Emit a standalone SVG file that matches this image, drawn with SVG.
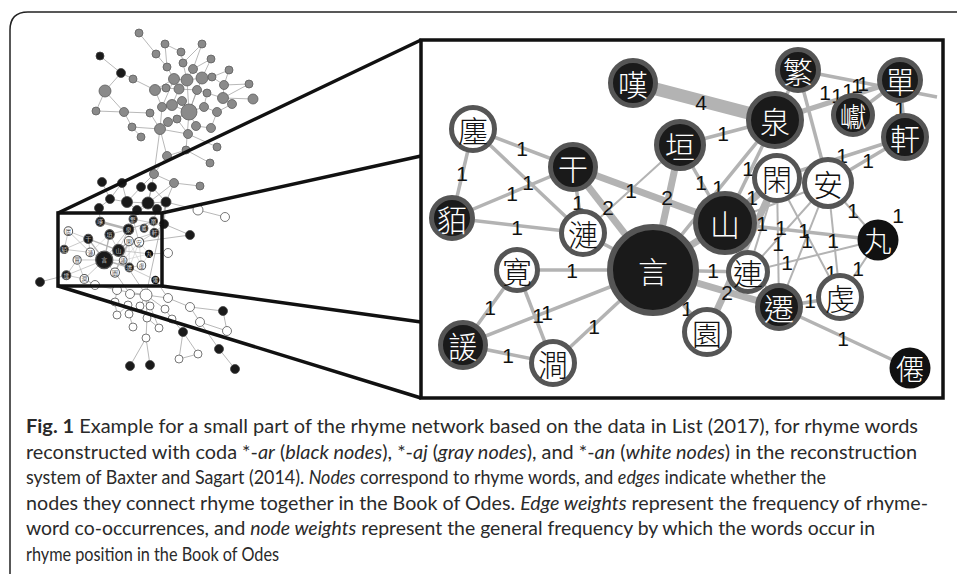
<svg xmlns="http://www.w3.org/2000/svg" xmlns:xlink="http://www.w3.org/1999/xlink" width="957" height="574" viewBox="0 0 957 574">
<style>
.frame{fill:none;stroke:#222;stroke-width:1.5}
.box{fill:none;stroke:#111;stroke-width:3.5}
.panel{fill:#fff;stroke:#111;stroke-width:3.5}
.proj{stroke:#111;stroke-width:3.5;fill:none}
.e{stroke:#b3b3b3;stroke-width:3.5;fill:none;stroke-linecap:butt}
.e2{stroke-width:7}
.e4{stroke-width:13}
.et{stroke-width:2}
.nb circle{fill:#1a1a1a;stroke:#555;stroke-width:5}
.nw circle{fill:#fff;stroke:#555;stroke-width:5}
.ns circle{fill:#111;stroke:none}
.nb text,.ns text{fill:#fff}
.nw text{fill:#111}
.ch{font-family:"Noto Sans CJK TC","Noto Sans CJK JP",sans-serif;font-weight:300;font-size:30px;text-anchor:middle;dominant-baseline:central}
.lbl{font-family:"Liberation Sans",Arial,sans-serif;font-size:21px;fill:#111;text-anchor:middle}
.se{stroke:#9a9a9a;stroke-width:0.7;fill:none}
.sg{fill:#8a8a8a;stroke:#5e5e5e;stroke-width:0.8}
.sk{fill:#1a1a1a;stroke:#444;stroke-width:0.8}
.sw{fill:#fff;stroke:#555;stroke-width:0.8}
.cap{font-family:Lato,"Open Sans","Liberation Sans",sans-serif;font-size:19.5px;fill:#2a2a2a}
</style>
<rect width="957" height="574" fill="#fff"/>
<path class="frame" d="M10,574 V30 Q10,12 28,12 H957"/>

<!-- overview network -->
<g id="overview">
<path class="se" d="M139,33L156,54M156,54L167,67M165,44L167,67M165,44L181,52M181,52L183,63M202,44L183,63M202,44L193,69M211,59L193,69M211,59L202,78M167,67L174,79M183,63L187,80M193,69L187,80M193,69L202,78M229,70L212,77M229,70L224,85M174,79L187,80M187,80L202,78M202,78L212,77M212,77L224,85M249,84L224,85M249,84L223,98M133,79L155,90M105,91L121,73M100,56L121,73M105,91L96,111M105,91L124,112M96,111L124,112M124,112L150,113M124,112L132,127M132,127L141,137M132,127L160,129M155,90L174,79M155,90L166,88M155,90L162,107M166,88L179,89M179,89L187,80M179,89L197,90M197,90L207,93M207,93L223,98M223,98L232,104M223,98L253,99M224,85L223,98M162,107L172,105M172,105L182,101M182,101L189,112M172,105L189,112M189,112L204,107M204,107L217,112M189,112L168,122M189,112L177,119M189,112L196,126M196,126L211,128M168,122L160,129M160,129L150,113M160,129L188,134M188,134L217,147M160,129L167,156M167,156L186,150M186,150L210,163M167,156L154,174M154,174L174,183M174,183L200,186M189,112L187,80M189,112L202,78M204,107L207,93M217,112L232,104M162,107L174,79M172,105L179,89M189,112L197,90M211,128L217,112M162,107L160,129M177,119L188,134M121,73L133,79M189,112L186,150M160,129L154,174"/>
<path class="se" d="M154,174L141,187M154,174L148,203M174,183L166,202M174,183L148,203M102,182L110,199M122,183L110,199M122,183L127,202M141,187L127,202M152,187L148,203M152,187L166,202M110,199L127,202M127,202L148,203M148,203L166,202M99,208L110,199M137,210L127,202M137,210L148,203M157,209L148,203M157,209L166,202M166,202L198,210M198,210L225,217M166,202L164,224M164,224L190,235M137,210L128.5,229.3M148,203L133,219M157,209L153.4,221.2M99,208L100.2,221.8M164,224L154.4,232.8M166,202L146,295M190,235L139,242M168,253L149,254"/>
<path class="se" d="M40,282L66.4,275.2M95,285L84.3,278.9M95,285L117,290M117,290L146,295M146,295L130,294M146,295L168,298M146,295L140,306M146,295L150,306M146,295L165,309M146,295L147,318M130,294L115,272.6M117,290L115,302M115,302L117,315M128,305L117,315M128,305L129,314M140,306L129,314M129,314L133,327M147,318L159,328M147,318L146,338M146,338L130,366M146,338L150,365M168,298L190,307M190,307L223,311M190,307L200,322M200,322L227,331M227,331L223,311M165,309L172,319M172,319L183,332M183,332L179,359M183,332L198,354M179,359L198,354M200,322L219,349M219,349L235,369M150,306L159,328M168,298L155.4,279.9M146,295L123.1,260.3"/>
<g>
<circle class="sg" cx="139" cy="33" r="4"/><circle class="sg" cx="165" cy="44" r="4"/><circle class="sg" cx="202" cy="44" r="4"/><circle class="sg" cx="156" cy="54" r="4"/><circle class="sg" cx="181" cy="52" r="4"/><circle class="sg" cx="211" cy="59" r="4"/><circle class="sg" cx="167" cy="67" r="4"/><circle class="sg" cx="183" cy="63" r="4"/><circle class="sg" cx="193" cy="69" r="4.5"/><circle class="sg" cx="229" cy="70" r="4"/>
<circle class="sg" cx="174" cy="79" r="5.5"/><circle class="sg" cx="187" cy="80" r="6"/><circle class="sg" cx="202" cy="78" r="6"/><circle class="sg" cx="212" cy="77" r="4"/><circle class="sg" cx="249" cy="84" r="4"/><circle class="sg" cx="133" cy="79" r="4"/><circle class="sg" cx="105" cy="91" r="6"/><circle class="sg" cx="155" cy="90" r="5.5"/><circle class="sg" cx="166" cy="88" r="4"/><circle class="sg" cx="179" cy="89" r="5"/>
<circle class="sg" cx="197" cy="90" r="4.5"/><circle class="sg" cx="207" cy="93" r="4"/><circle class="sg" cx="224" cy="85" r="4.5"/><circle class="sg" cx="223" cy="98" r="5.5"/><circle class="sg" cx="232" cy="104" r="4.5"/><circle class="sg" cx="253" cy="99" r="5"/><circle class="sg" cx="96" cy="111" r="4"/><circle class="sg" cx="124" cy="112" r="4.5"/><circle class="sg" cx="162" cy="107" r="4.5"/><circle class="sg" cx="172" cy="105" r="5.5"/>
<circle class="sg" cx="182" cy="101" r="4.5"/><circle class="sg" cx="189" cy="112" r="8"/><circle class="sg" cx="204" cy="107" r="4.5"/><circle class="sg" cx="217" cy="112" r="4.5"/><circle class="sg" cx="150" cy="113" r="4"/><circle class="sg" cx="168" cy="122" r="4.5"/><circle class="sg" cx="177" cy="119" r="4"/><circle class="sg" cx="196" cy="126" r="4.5"/><circle class="sg" cx="211" cy="128" r="4.5"/><circle class="sg" cx="132" cy="127" r="4"/>
<circle class="sg" cx="160" cy="129" r="5.5"/><circle class="sg" cx="188" cy="134" r="4.5"/><circle class="sg" cx="141" cy="137" r="4"/><circle class="sg" cx="217" cy="147" r="4"/><circle class="sg" cx="186" cy="150" r="4"/><circle class="sg" cx="167" cy="156" r="4.5"/><circle class="sg" cx="210" cy="163" r="4"/><circle class="sg" cx="154" cy="174" r="4.5"/><circle class="sg" cx="174" cy="183" r="4.5"/><circle class="sg" cx="200" cy="186" r="4"/>
<circle class="sk" cx="100" cy="56" r="4"/><circle class="sk" cx="121" cy="73" r="4.5"/>
<circle class="sk" cx="102" cy="182" r="4.5"/><circle class="sk" cx="122" cy="183" r="4.5"/><circle class="sk" cx="141" cy="187" r="4.5"/><circle class="sk" cx="152" cy="187" r="4.5"/><circle class="sk" cx="110" cy="199" r="4.5"/><circle class="sk" cx="127" cy="202" r="5.5"/><circle class="sk" cx="148" cy="203" r="6"/><circle class="sk" cx="166" cy="202" r="5"/><circle class="sk" cx="99" cy="208" r="4.5"/><circle class="sk" cx="137" cy="210" r="4.5"/><circle class="sk" cx="157" cy="209" r="4.5"/>
<circle class="sw" cx="198" cy="210" r="5"/><circle class="sw" cx="225" cy="217" r="4.5"/><circle class="sk" cx="164" cy="224" r="4.5"/><circle class="sk" cx="190" cy="235" r="4.5"/><circle class="sw" cx="168" cy="253" r="4.5"/><circle class="sk" cx="40" cy="282" r="4.5"/>
<circle class="sw" cx="95" cy="285" r="4.5"/><circle class="sw" cx="117" cy="290" r="4.5"/><circle class="sw" cx="146" cy="295" r="6"/><circle class="sw" cx="130" cy="294" r="4.5"/><circle class="sw" cx="168" cy="298" r="4.5"/><circle class="sw" cx="115" cy="302" r="4"/><circle class="sw" cx="128" cy="305" r="4"/><circle class="sw" cx="140" cy="306" r="4"/><circle class="sw" cx="150" cy="306" r="4"/><circle class="sw" cx="165" cy="309" r="4"/>
<circle class="sw" cx="190" cy="307" r="4.5"/><circle class="sk" cx="223" cy="311" r="4.5"/><circle class="sw" cx="117" cy="315" r="4"/><circle class="sw" cx="129" cy="314" r="4"/><circle class="sw" cx="147" cy="318" r="4"/><circle class="sw" cx="172" cy="319" r="4"/><circle class="sw" cx="200" cy="322" r="4.5"/><circle class="sw" cx="133" cy="327" r="4"/><circle class="sw" cx="159" cy="328" r="4"/><circle class="sk" cx="183" cy="332" r="4.5"/>
<circle class="sw" cx="227" cy="331" r="4.5"/><circle class="sw" cx="146" cy="338" r="4"/><circle class="sk" cx="219" cy="349" r="4.5"/><circle class="sw" cx="179" cy="359" r="4"/><circle class="sw" cx="198" cy="354" r="4"/><circle class="sk" cx="130" cy="366" r="4.5"/><circle class="sk" cx="150" cy="365" r="4.5"/><circle class="sk" cx="235" cy="369" r="4.5"/>
</g>
<use xlink:href="#edges" transform="translate(58,213) scale(0.1992,0.2041) translate(-421,-40)"/>
<use xlink:href="#nodes" transform="translate(58,213) scale(0.1992,0.2041) translate(-421,-40)"/>
<rect class="box" x="58" y="213" width="104" height="73"/>
</g>

<!-- projection lines -->
<path class="proj" d="M58,213L421,40M162,213L421,156M162,286L421,322M58,286L421,398"/>

<!-- zoomed panel -->
<rect class="panel" x="421" y="40" width="522" height="358"/>

<g id="edges">
<line class="e e4" x1="633" y1="83" x2="775" y2="120"/>
<line class="e" x1="473" y1="129" x2="573" y2="167"/>
<line class="e" x1="473" y1="129" x2="452" y2="218"/>
<line class="e" x1="473" y1="129" x2="583" y2="233"/>
<line class="e" x1="452" y1="218" x2="573" y2="167"/>
<line class="e" x1="452" y1="218" x2="583" y2="233"/>
<line class="e" x1="573" y1="167" x2="583" y2="233"/>
<line class="e e2" x1="573" y1="167" x2="653" y2="270"/>
<line class="e e2" x1="573" y1="167" x2="725" y2="223"/>
<line class="e et" x1="583" y1="233" x2="680" y2="145"/>
<line class="e e2" x1="680" y1="145" x2="653" y2="270"/>
<line class="e" x1="680" y1="145" x2="775" y2="120"/>
<line class="e" x1="680" y1="145" x2="725" y2="223"/>
<line class="e" x1="775" y1="120" x2="725" y2="223"/>
<line class="e" x1="775" y1="120" x2="653" y2="270"/>
<line class="e e2" x1="777" y1="178" x2="725" y2="223"/>
<line class="e e2" x1="777" y1="178" x2="707" y2="332"/>
<line class="e" style="stroke-width:5" x1="775" y1="120" x2="900" y2="80"/>
<line class="e" x1="798" y1="70" x2="937" y2="97"/>
<line class="e" x1="798" y1="70" x2="828" y2="183"/>
<line class="e" x1="798" y1="70" x2="775" y2="120"/>
<line class="e" x1="853" y1="115" x2="900" y2="80"/>
<line class="e" x1="900" y1="80" x2="905" y2="137"/>
<line class="e" x1="905" y1="137" x2="828" y2="183"/>
<line class="e" x1="905" y1="137" x2="777" y2="178"/>
<line class="e" x1="725" y1="223" x2="878" y2="240"/>
<line class="e et" x1="828" y1="183" x2="878" y2="240"/>
<line class="e et" x1="828" y1="183" x2="840" y2="297"/>
<line class="e et" x1="878" y1="240" x2="840" y2="297"/>
<line class="e et" x1="828" y1="183" x2="748" y2="272"/>
<line class="e et" x1="828" y1="183" x2="779" y2="307"/>
<line class="e et" x1="828" y1="183" x2="725" y2="223"/>
<line class="e et" x1="777" y1="178" x2="840" y2="297"/>
<line class="e et" x1="777" y1="178" x2="779" y2="307"/>
<line class="e et" x1="777" y1="178" x2="748" y2="272"/>
<line class="e et" x1="748" y1="272" x2="878" y2="240"/>
<line class="e et" x1="725" y1="223" x2="779" y2="307"/>
<line class="e" x1="653" y1="270" x2="748" y2="272"/>
<line class="e e2" x1="653" y1="270" x2="779" y2="307"/>
<line class="e" x1="653" y1="270" x2="707" y2="332"/>
<line class="e" x1="779" y1="307" x2="840" y2="297"/>
<line class="e" x1="779" y1="307" x2="910" y2="368"/>
<line class="e" x1="653" y1="270" x2="517" y2="270"/>
<line class="e" x1="517" y1="270" x2="463" y2="345"/>
<line class="e" x1="517" y1="270" x2="553" y2="363"/>
<line class="e" x1="653" y1="270" x2="463" y2="345"/>
<line class="e" x1="463" y1="345" x2="553" y2="363"/>
<line class="e" x1="653" y1="270" x2="553" y2="363"/>
<line class="e" x1="653" y1="270" x2="583" y2="233"/>
<line class="e e2" x1="725" y1="223" x2="653" y2="270"/>
</g>

<g id="edge-labels" class="lbl">
<text x="701" y="110">4</text>
<text x="522" y="156">1</text><text x="462" y="181">1</text><text x="528" y="190">1</text><text x="512" y="201">1</text><text x="517" y="235">1</text><text x="578" y="210">1</text>
<text x="608" y="215">2</text><text x="631" y="198">1</text><text x="667" y="205">2</text><text x="723" y="141">1</text><text x="701" y="190">1</text><text x="718" y="195">1</text><text x="748" y="176">1</text>
<text x="825" y="100">1</text><text x="837" y="103">1</text><text x="848" y="98">1</text><text x="857" y="93">1</text><text x="863" y="91">1</text><text x="900" y="116">1</text>
<text x="842" y="163">1</text><text x="868" y="168">1</text><text x="752" y="205">1</text><text x="762" y="231">1</text><text x="781" y="235">1</text><text x="804" y="238">1</text><text x="807" y="248">1</text>
<text x="778" y="251">1</text><text x="833" y="248">1</text><text x="853" y="218">1</text><text x="898" y="223">1</text><text x="787" y="270">1</text><text x="831" y="280">1</text><text x="858" y="276">1</text>
<text x="713" y="278">1</text><text x="727" y="300">2</text><text x="810" y="308">1</text><text x="843" y="346">1</text><text x="687" y="316">1</text>
<text x="572" y="278">1</text><text x="490" y="315">1</text><text x="538" y="323">1</text><text x="547" y="320">1</text><text x="508" y="363">1</text><text x="594" y="334">1</text>
</g>

<g id="nodes" class="ch">
<g id="n-tan" class="nb"><circle cx="633" cy="83" r="22.5"/><text x="633" y="83">嘆</text></g>
<g id="n-chan" class="nw"><circle cx="473" cy="129" r="21.5"/><text x="473" y="129">廛</text></g>
<g id="n-gan" class="nb"><circle cx="573" cy="167" r="22.5"/><text x="573" y="167">干</text></g>
<g id="n-yuan1" class="nb"><circle cx="680" cy="145" r="23.5"/><text x="680" y="145">垣</text></g>
<g id="n-mo" class="nb"><circle cx="452" cy="218" r="20.5"/><text x="452" y="218">貊</text></g>
<g id="n-lian1" class="nw"><circle cx="583" cy="233" r="21.5"/><text x="583" y="233">漣</text></g>
<g id="n-yan" class="nb"><circle cx="653" cy="270" r="43" style="stroke-width:6"/><text x="653" y="270">言</text></g>
<g id="n-kuan" class="nw"><circle cx="517" cy="270" r="20.5"/><text x="517" y="270">寛</text></g>
<g id="n-xuan" class="nb"><circle cx="463" cy="345" r="22.5"/><text x="463" y="345">諼</text></g>
<g id="n-jian" class="nw"><circle cx="553" cy="363" r="21.5"/><text x="553" y="363">澗</text></g>
<g id="n-fan" class="nb"><circle cx="798" cy="70" r="20.5"/><text x="798" y="70">繁</text></g>
<g id="n-dan" class="nb"><circle cx="900" cy="80" r="20.5"/><text x="900" y="80">單</text></g>
<g id="n-quan" class="nb"><circle cx="775" cy="120" r="26.5"/><text x="775" y="120">泉</text></g>
<g id="n-yan2" class="nb"><circle cx="853" cy="115" r="19.5"/><text x="853" y="115" style="font-size:27px">巘</text></g>
<g id="n-xuan2" class="nb"><circle cx="905" cy="137" r="21.5"/><text x="905" y="137">軒</text></g>
<g id="n-xian" class="nw"><circle cx="777" cy="178" r="22.5"/><text x="777" y="178">閑</text></g>
<g id="n-an" class="nw"><circle cx="828" cy="183" r="23.5"/><text x="828" y="183">安</text></g>
<g id="n-shan" class="nb"><circle cx="725" cy="223" r="29.5"/><text x="725" y="223">山</text></g>
<g id="n-wan" class="ns"><circle cx="878" cy="240" r="20.5"/><text x="878" y="240" style="font-size:28px">丸</text></g>
<g id="n-lian2" class="nw"><circle cx="748" cy="272" r="19.5"/><text x="748" y="272">連</text></g>
<g id="n-qian" class="nb"><circle cx="779" cy="307" r="21.5"/><text x="779" y="307">遷</text></g>
<g id="n-qian2" class="nw"><circle cx="840" cy="297" r="21.5"/><text x="840" y="297">虔</text></g>
<g id="n-yuan2" class="nw"><circle cx="707" cy="332" r="22.5"/><text x="707" y="332">園</text></g>
<g id="n-xian2" class="ns"><circle cx="910" cy="368" r="20.5"/><text x="910" y="368" style="font-size:28px">僊</text></g>
</g>

<!-- caption -->
<g id="caption" class="cap">
<text x="26" y="433" textLength="892" lengthAdjust="spacingAndGlyphs"><tspan font-weight="bold">Fig. 1</tspan> Example for a small part of the rhyme network based on the data in List (2017), for rhyme words</text>
<text x="26" y="458.5" textLength="891" lengthAdjust="spacingAndGlyphs">reconstructed with coda *-<tspan font-style="italic">ar</tspan> (<tspan font-style="italic">black nodes</tspan>), *-<tspan font-style="italic">aj</tspan> (<tspan font-style="italic">gray nodes</tspan>), and *-<tspan font-style="italic">an</tspan> (<tspan font-style="italic">white nodes</tspan>) in the reconstruction</text>
<text x="26" y="484" textLength="800" lengthAdjust="spacingAndGlyphs">system of Baxter and Sagart (2014). <tspan font-style="italic">Nodes</tspan> correspond to rhyme words, and <tspan font-style="italic">edges</tspan> indicate whether the</text>
<text x="26" y="509.5" textLength="902" lengthAdjust="spacingAndGlyphs">nodes they connect rhyme together in the Book of Odes. <tspan font-style="italic">Edge weights</tspan> represent the frequency of rhyme-</text>
<text x="26" y="535" textLength="849" lengthAdjust="spacingAndGlyphs">word co-occurrences, and <tspan font-style="italic">node weights</tspan> represent the general frequency by which the words occur in</text>
<text x="26" y="560.5" textLength="253" lengthAdjust="spacingAndGlyphs">rhyme position in the Book of Odes</text>
</g>
</svg>
